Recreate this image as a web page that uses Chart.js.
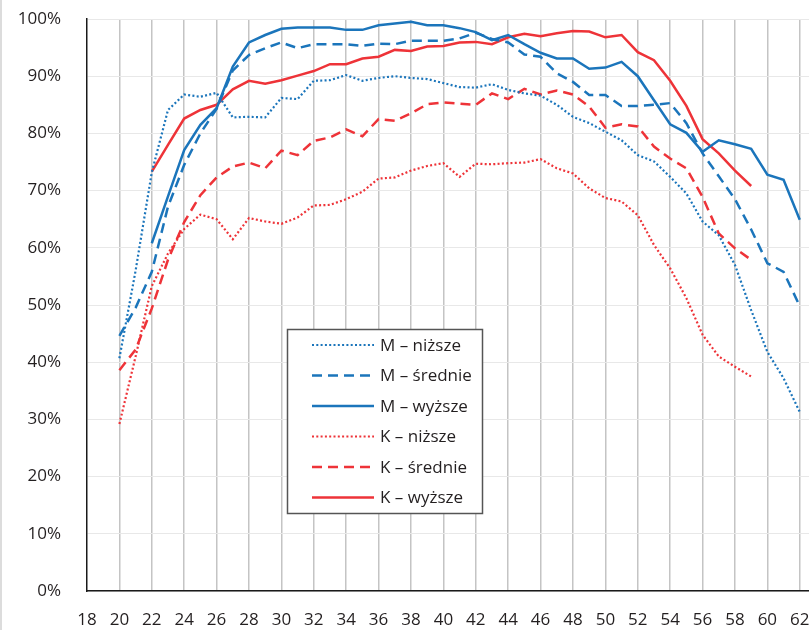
<!DOCTYPE html>
<html>
<head>
<meta charset="utf-8">
<script src="https://cdn.jsdelivr.net/npm/chart.js@4.4.1/dist/chart.umd.min.js"></script>
<style>
  html, body { margin: 0; padding: 0; background: #fff; }
  #wrap { position: relative; width: 809px; height: 630px; }
  #edge { position: absolute; left: 0; top: 0; width: 2px; height: 630px; background: #dcdcdc; }
</style>
</head>
<body>
<div id="wrap">
  <canvas id="lineChart" width="809" height="630"></canvas>
  <div id="edge"></div>
</div>
<script>
// ages on the x axis and the tick labels
const ages = [20, 21, 22, 23, 24, 25, 26, 27, 28, 29, 30, 31, 32, 33, 34, 35, 36, 37, 38, 39, 40,
  41, 42, 43, 44, 45, 46, 47, 48, 49, 50, 51, 52, 53, 54, 55, 56, 57, 58, 59, 60, 61, 62];
const xTicks = [18, 20, 22, 24, 26, 28, 30, 32, 34, 36, 38, 40, 42, 44, 46, 48, 50, 52, 54, 56, 58, 60, 62];

// share in %, one value per age (null = no data)
const mLow = [40.7, 56, 73.2, 84.1, 86.8, 86.4, 87.1, 82.8, 82.9, 82.8, 86.2, 86.0, 89.2, 89.3, 90.2,
  89.2, 89.7, 90.0, 89.7, 89.5, 88.8, 88.1, 88.0, 88.6, 87.6, 87.0, 86.6, 85.0, 82.9, 81.8, 80.3,
  78.8, 76.2, 75.1, 72.4, 69.5, 64.6, 62.2, 57.0, 49.1, 41.8, 37.2, 31.3];
const mMid = [44.6, 49.5, 55.8, 67.2, 74.5, 80.0, 84.3, 91.0, 93.7, 94.9, 95.9, 94.9, 95.6, 95.6, 95.6,
  95.3, 95.7, 95.6, 96.2, 96.2, 96.2, 96.6, 97.6, 96.5, 95.9, 93.8, 93.4, 90.5, 89.0, 86.7, 86.7,
  84.8, 84.8, 85.0, 85.3, 81.8, 76.5, 72.5, 68.5, 63.2, 57.3, 55.8, 49.8];
const mHigh = [null, null, 60.8, 69.0, 77.1, 81.5, 84.4, 91.7, 95.9, 97.2, 98.3, 98.5, 98.5, 98.5, 98.1,
  98.1, 98.9, 99.2, 99.5, 98.9, 98.9, 98.4, 97.7, 96.3, 97.2, 95.6, 94.1, 93.1, 93.1, 91.3, 91.5,
  92.5, 90.0, 85.8, 81.6, 80.1, 76.8, 78.8, 78.1, 77.3, 72.8, 71.9, 64.9];
const kLow = [29.2, 41.0, 53.3, 59.0, 63.3, 65.8, 65.0, 61.5, 65.2, 64.6, 64.2, 65.3, 67.4, 67.5, 68.5,
  69.8, 72.1, 72.3, 73.5, 74.3, 74.8, 72.4, 74.7, 74.6, 74.8, 74.9, 75.5, 73.9, 73.0, 70.4, 68.7,
  68.1, 65.7, 60.5, 56.4, 51.2, 44.8, 41.0, 39.2, 37.5, null, null, null];
const kMid = [38.6, 42.2, 49.4, 57.9, 64.5, 69.2, 72.3, 74.2, 74.9, 73.9, 77.0, 76.2, 78.7, 79.3, 80.7,
  79.5, 82.5, 82.2, 83.5, 85.1, 85.4, 85.2, 85.0, 87.0, 86.0, 87.8, 86.8, 87.5, 86.8, 84.7, 81.0,
  81.6, 81.2, 77.7, 75.6, 73.9, 68.9, 62.5, 59.9, 57.9, null, null, null];
const kHigh = [null, null, 73.3, 78.0, 82.6, 84.1, 85.0, 87.7, 89.2, 88.7, 89.3, 90.1, 90.9, 92.1, 92.1,
  93.1, 93.4, 94.6, 94.4, 95.2, 95.3, 95.9, 96.0, 95.6, 96.8, 97.4, 97.0, 97.5, 97.9, 97.8, 96.8,
  97.2, 94.2, 92.8, 89.2, 84.8, 79.0, 76.5, 73.5, 70.8, null, null, null];

const seriesNames = ["M – niższe", "M – średnie", "M – wyższe", "K – niższe", "K – średnie", "K – wyższe"];

const BLUE = "#1b75bb";
const RED = "#ee3338";
const DOT = [2, 2.3];
const DASH = [10, 6];
const FONT = "Open Sans";
const TEXT = "#231f20";

function points(values) {
  return ages.map((a, i) => ({ x: a, y: values[i] }));
}

function makeSet(label, values, color, dash, width) {
  return {
    label: label,
    data: points(values),
    borderColor: color,
    backgroundColor: color,
    borderWidth: width,
    borderDash: dash,
    pointRadius: 0,
    tension: 0,
    fill: false,
  };
}

// legend drawn inside the plot, with a frame
const boxLegend = {
  id: "boxLegend",
  afterDatasetsDraw(chart, args, opts) {
    const ctx = chart.ctx;
    ctx.save();
    ctx.fillStyle = "#fff";
    ctx.fillRect(opts.x, opts.y, opts.w, opts.h);
    ctx.strokeStyle = "#555";
    ctx.lineWidth = 1.5;
    ctx.strokeRect(opts.x, opts.y, opts.w, opts.h);
    chart.data.datasets.forEach((ds, i) => {
      const y = opts.firstRow + i * opts.rowStep;
      ctx.beginPath();
      ctx.setLineDash(ds.borderDash || []);
      ctx.strokeStyle = ds.borderColor;
      ctx.lineWidth = ds.borderWidth;
      ctx.moveTo(opts.lineX, y);
      ctx.lineTo(opts.lineX + opts.lineW, y);
      ctx.stroke();
      ctx.setLineDash([]);
      ctx.fillStyle = TEXT;
      ctx.font = "17px '" + FONT + "'";
      ctx.textBaseline = "middle";
      ctx.fillText(ds.label, opts.textX, y + 1);
    });
    ctx.restore();
  },
};

const ctx = document.getElementById("lineChart").getContext("2d");
const chart = new Chart(ctx, {
  type: "line",
  data: {
    datasets: [
      makeSet(seriesNames[0], mLow, BLUE, DOT, 2.2),
      makeSet(seriesNames[1], mMid, BLUE, DASH, 2.5),
      makeSet(seriesNames[2], mHigh, BLUE, [], 2.5),
      makeSet(seriesNames[3], kLow, RED, DOT, 2.2),
      makeSet(seriesNames[4], kMid, RED, DASH, 2.5),
      makeSet(seriesNames[5], kHigh, RED, [], 2.5),
    ],
  },
  plugins: [boxLegend],
  options: {
    responsive: false,
    animation: false,
    layout: { padding: { top: 19, right: 0, left: 0, bottom: 0 } },
    scales: {
      x: {
        type: "linear",
        min: 18,
        max: 62.57,
        afterBuildTicks: (scale) => {
          scale.ticks = xTicks.map((v) => ({ value: v }));
        },
        afterFit: (scale) => {
          scale.height = 39;
          scale.paddingRight = 0;
          scale.paddingLeft = 0;
        },
        grid: {
          drawTicks: false,
          color: (c) => (c.tick && c.tick.value === 18 ? "rgba(0,0,0,0)" : "#c4c4c4"),
          lineWidth: 1.5,
        },
        border: { color: "#1a1a1a", width: 1.5 },
        ticks: {
          padding: 19,
          color: TEXT,
          font: { family: FONT, size: 17 },
          maxRotation: 0,
          autoSkip: false,
        },
      },
      y: {
        min: 0,
        max: 100,
        afterFit: (scale) => {
          scale.width = 87;
          scale.paddingTop = 0;
          scale.paddingBottom = 0;
        },
        grid: { drawTicks: false, color: "#e8e8e8", lineWidth: 1 },
        border: { color: "#1a1a1a", width: 1.5 },
        ticks: {
          stepSize: 10,
          padding: 26,
          color: TEXT,
          font: { family: FONT, size: 17 },
          callback: (v) => v + "%",
        },
      },
    },
    plugins: {
      legend: { display: false },
      tooltip: { enabled: false },
      boxLegend: {
        x: 287.5, y: 329.5, w: 195, h: 184,
        lineX: 312, lineW: 62, textX: 380,
        firstRow: 345, rowStep: 30.5,
      },
    },
  },
});
</script>
</body>
</html>
